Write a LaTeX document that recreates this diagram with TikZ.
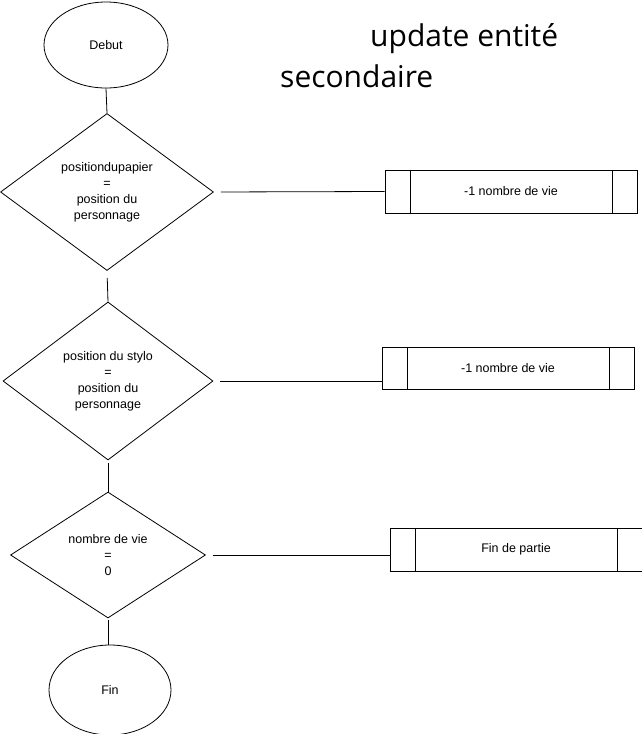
\documentclass[tikz,border=0pt]{standalone}
\usepackage{fontspec}
\setmainfont{Liberation Sans}
\newfontfamily\titlefont{Open Sans}
\usetikzlibrary{shapes.geometric}
\tikzset{
  base/.style={draw=black, line width=0.8pt, inner sep=0pt, font=\fontsize{12.5}{16}\selectfont, align=center},
  term/.style={base, ellipse},
  decision/.style={base, diamond},
  subproc/.style={base, rectangle, minimum width=252pt, minimum height=43pt,
    path picture={
      \draw[line width=0.8pt] ([xshift=25pt]path picture bounding box.north west) -- ([xshift=25pt]path picture bounding box.south west);
      \draw[line width=0.8pt] ([xshift=-25pt]path picture bounding box.north east) -- ([xshift=-25pt]path picture bounding box.south east);
    }},
  conn/.style={draw=black, line width=0.8pt},
  titletext/.style={font=\titlefont\fontsize{30}{36}\selectfont, inner sep=0pt}
}
\begin{document}
\begin{tikzpicture}[x=1pt,y=-1pt]
\useasboundingbox (0,0) rectangle (642,734);
\fill[white] (0,0) rectangle (642,734);

\node[titletext, anchor=base west] (t1) at (370,46) {update entité};
\node[titletext, anchor=base west] (t2) at (280,87) {secondaire};

\node[term, minimum width=124pt, minimum height=86pt] (debut) at (106,45) {Debut};

\node[decision, minimum width=213pt, minimum height=157pt] (d1) at (107,192)
  {positiondupapier\\=\\position du\\personnage};
\node[subproc] (b1) at (511,191.5) {-1 nombre de vie};

\node[decision, minimum width=210pt, minimum height=158pt] (d2) at (108,381)
  {position du stylo\\=\\position du\\personnage};
\node[subproc, minimum height=42pt] (b2) at (508,368) {-1 nombre de vie};

\node[decision, minimum width=195pt, minimum height=126pt] (d3) at (108,555)
  {nombre de vie\\=\\0};
\node[subproc] (b3) at (516,549.5) {Fin de partie};

\node[term, minimum width=122pt, minimum height=90pt] (fin) at (110,690) {Fin};

\draw[conn] (debut.south) -- (d1.north);
\draw[conn, shorten <=7pt] (d1.east) -- (b1.west);
\draw[conn, shorten <=7pt] (d1.south) -- (d2.north);
\draw[conn, shorten <=7pt] (d2.east) -- (b2.west |- d2.east);
\draw[conn, shorten <=3pt] (d2.south) -- (d3.north);
\draw[conn, shorten <=7pt] (d3.east) -- (b3.west |- d3.east);
\draw[conn, shorten <=2pt] (d3.south) -- (d3.south |- fin.north);
\end{tikzpicture}
\end{document}
